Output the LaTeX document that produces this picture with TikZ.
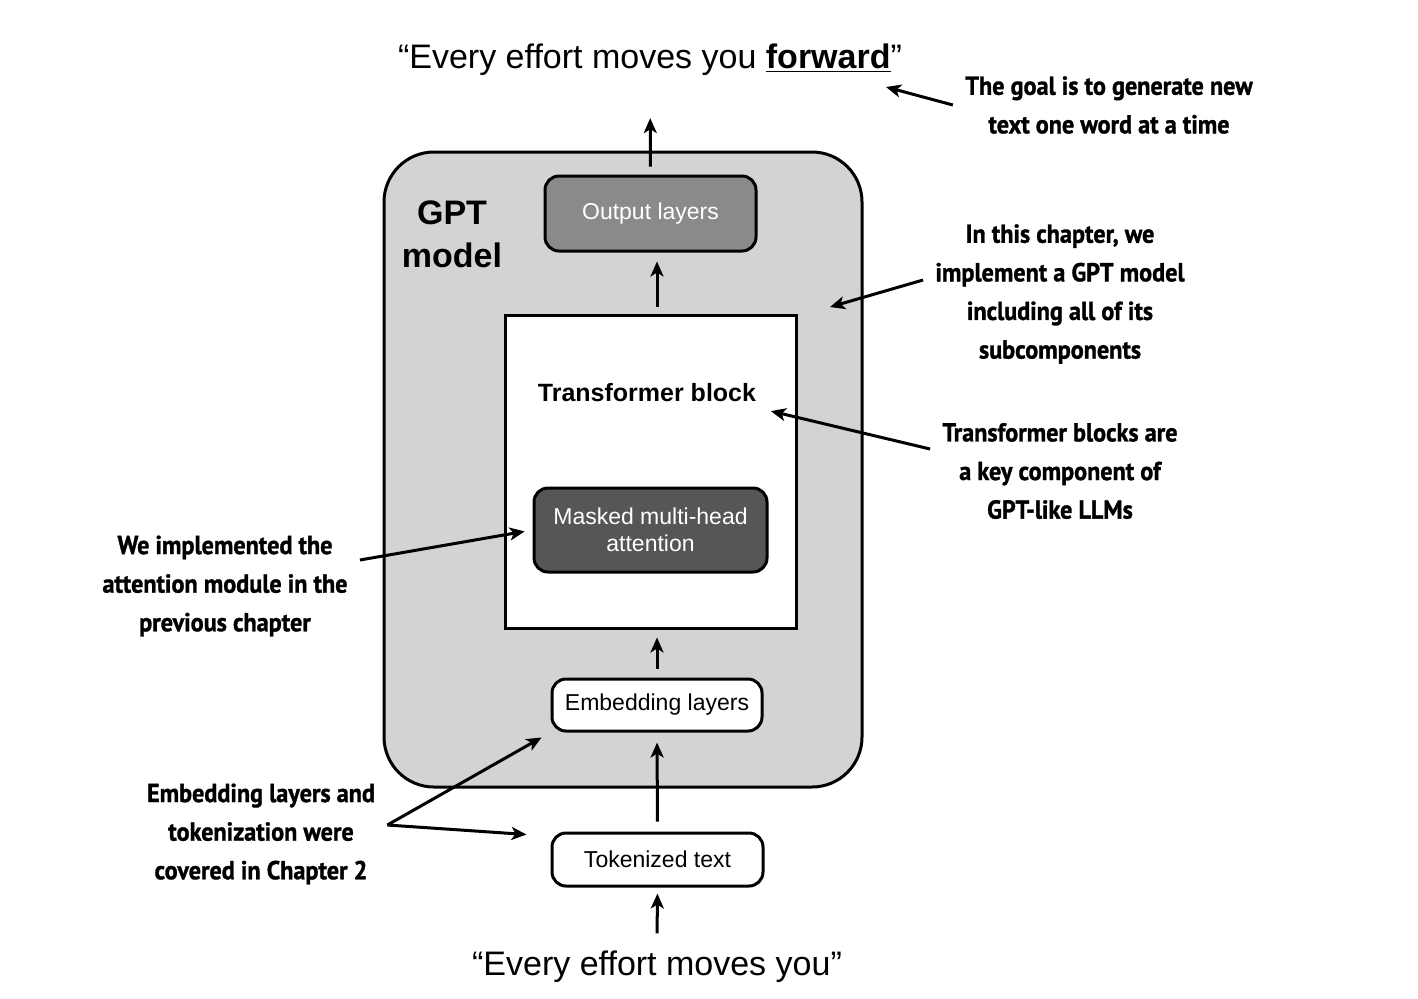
\documentclass[tikz,border=0pt]{standalone}
\usepackage{fontspec}
\setmainfont{Liberation Sans}
\newfontfamily\notefont[FakeStretch=0.93,BoldFeatures={FakeBold=1.2}]{PT Sans}
\usetikzlibrary{positioning,calc,arrows.meta}
\definecolor{gptgray}{HTML}{D3D3D3}
\definecolor{outgray}{HTML}{8A8A8A}
\definecolor{attgray}{HTML}{565656}
\tikzset{
	layerbox/.style={draw=black,line width=1.5pt,rounded corners=7pt,align=center,font=\fontsize{11.5}{13.5}\selectfont},
	note/.style={align=center,inner sep=6pt,font=\notefont\bfseries\fontsize{13}{19.3}\selectfont},
	flow/.style={-{Stealth[length=7.5pt,width=6.5pt,inset=2pt]},line width=1.5pt},
	quote/.style={font=\fontsize{17}{21}\selectfont}
}
\begin{document}
\begin{tikzpicture}[x=0.5pt,y=-0.5pt]
		\useasboundingbox (0,0) rectangle (1418,998);
		% model frame
		\node[draw=black,line width=1.5pt,fill=gptgray,rounded corners=25pt,minimum width=239pt,minimum height=317.5pt] (gpt) at (623,469.5) {};
		\node[align=center,font=\bfseries\fontsize{17}{21.5}\selectfont] (gptlabel) at (452,234) {GPT\\model};
		\node[layerbox,fill=outgray,text=white,minimum width=105.5pt,minimum height=37.5pt] (outl) at (650.5,213.5) {Output layers};
		\node[draw=black,line width=1.5pt,fill=white,minimum width=145.5pt,minimum height=156.5pt] (tblock) at (650.5,471.5) {};
		\node[font=\bfseries\fontsize{12.5}{14}\selectfont] (tblabel) at (647,393) {Transformer block};
		\node[layerbox,fill=attgray,text=white,minimum width=116.5pt,minimum height=42pt] (att) at (650.5,530) {Masked multi-head\\attention};
		\node[layerbox,fill=white,minimum width=105pt,minimum height=26pt] (emb) at (657,705) {Embedding layers};
		\node[layerbox,fill=white,minimum width=105.5pt,minimum height=26.5pt] (tok) at (657.5,859.5) {Tokenized text};
		
		% input and output text
		\node[quote,anchor=base] (topq) at (650,68) {“Every effort moves you \underline{\textbf{forward}}”};
		\node[quote,anchor=base] (botq) at (657,975) {“Every effort moves you”};
		
		\draw[flow,shorten <=4pt,shorten >=18pt] (outl.north)--(topq.south);
		\draw[flow,shorten <=3.5pt,shorten >=4.5pt] (tblock.north -| emb.north)--(outl.south -| emb.north);
		\draw[flow,shorten <=4.5pt,shorten >=4pt] (emb.north)--(emb.north |- tblock.south);
		\draw[flow,shorten <=5pt,shorten >=5pt] (tok.north)--(emb.south);
		\draw[flow,shorten <=5pt,shorten >=3pt] (botq.north)--(tok.south);
		
		% notes
		\node[note] (goal) at (1109,105) {The goal is to generate new\\text one word at a time};
		\node[note] (chapter) at (1060,294) {In this chapter, we\\implement a GPT model\\including all of its\\subcomponents};
		\node[note] (blocks) at (1060,471) {Transformer blocks are\\a key component of\\GPT-like LLMs};
		\node[note] (attnote) at (225,586) {We implemented the\\attention module in the\\previous chapter};
		\node[note] (embnote) at (261,834) {Embedding layers and\\tokenization were\\covered in Chapter 2};
		
		\coordinate (goaltip) at (886,87);
		\coordinate (gpttip) at (830,307);
		\coordinate (embtip) at ($(emb.south west)+(-9,5)$);
		\coordinate (toktip) at ($(tok.north west)+(-24,3)$);
		
		\draw[flow] (goal.west)--(goaltip);
		\draw[flow] ([yshift=7pt]chapter.west)--(gpttip);
		\draw[flow,shorten >=4pt] ([yshift=11pt]blocks.west)--(tblabel.south east);
		\draw[flow,shorten >=4pt] ([yshift=13pt]attnote.east)--(att.west);
		\draw[flow] ([yshift=4.5pt]embnote.east)--(embtip);
		\draw[flow] ([yshift=4.5pt]embnote.east)--(toktip);
	\end{tikzpicture}
\end{document}
